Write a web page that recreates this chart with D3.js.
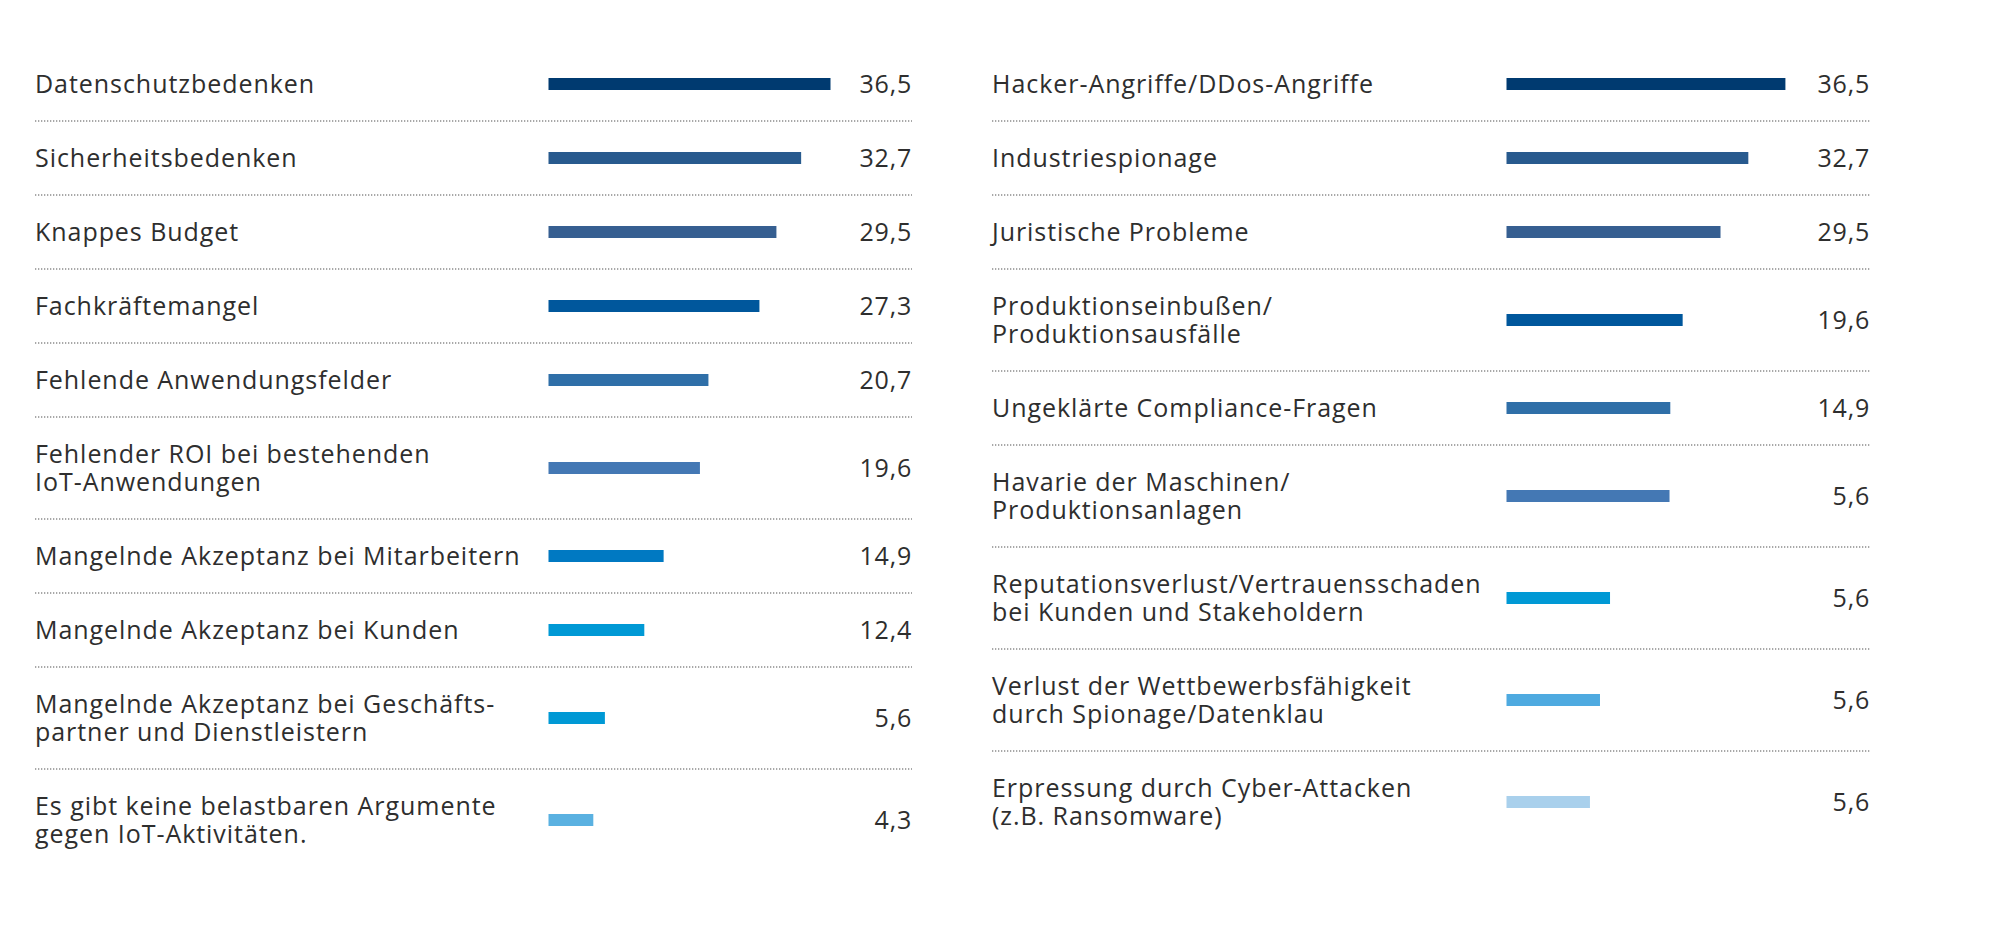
<!DOCTYPE html>
<html>
<head>
<meta charset="utf-8">
<script src="https://cdn.jsdelivr.net/npm/d3@7"></script>
<style>
  body { margin: 0; background: #fff; }
  text { font-family: "Open Sans", sans-serif; fill: #2e2e2e; }
</style>
</head>
<body>
<div id="chart"></div>
<script>
// Left panel: hindrances; right panel: risks
const leftCategories = [
  "Datenschutzbedenken",
  "Sicherheitsbedenken",
  "Knappes Budget",
  "Fachkräftemangel",
  "Fehlende Anwendungsfelder",
  "Fehlender ROI bei bestehenden\nIoT-Anwendungen",
  "Mangelnde Akzeptanz bei Mitarbeitern",
  "Mangelnde Akzeptanz bei Kunden",
  "Mangelnde Akzeptanz bei Geschäfts-\npartner und Dienstleistern",
  "Es gibt keine belastbaren Argumente\ngegen IoT-Aktivitäten."
];
// bar lengths as drawn in the picture
const leftValues = [36.5, 32.7, 29.5, 27.3, 20.7, 19.6, 14.9, 12.4, 7.3, 5.8];
// numbers printed next to the bars
const leftValueLabels = ["36,5", "32,7", "29,5", "27,3", "20,7", "19,6", "14,9", "12,4", "5,6", "4,3"];

const rightCategories = [
  "Hacker-Angriffe/DDos-Angriffe",
  "Industriespionage",
  "Juristische Probleme",
  "Produktionseinbußen/\nProduktionsausfälle",
  "Ungeklärte Compliance-Fragen",
  "Havarie der Maschinen/\nProduktionsanlagen",
  "Reputationsverlust/Vertrauensschaden\nbei Kunden und Stakeholdern",
  "Verlust der Wettbewerbsfähigkeit\ndurch Spionage/Datenklau",
  "Erpressung durch Cyber-Attacken\n(z.B. Ransomware)"
];
const rightValues = [36.1, 31.3, 27.7, 22.8, 21.2, 21.1, 13.4, 12.1, 10.8];
const rightValueLabels = ["36,5", "32,7", "29,5", "19,6", "14,9", "5,6", "5,6", "5,6", "5,6"];

const leftColors = ["#003a70", "#285a8e", "#365f91", "#00579c", "#2f6fa8", "#4478b4", "#0079c2", "#0099d5", "#0099d5", "#5ab1e1"];
const rightColors = ["#003a70", "#285a8e", "#365f91", "#00579c", "#2f6fa8", "#4478b4", "#0099d5", "#4eaae0", "#a9d0ec"];

const width = 2000, height = 930;
const svg = d3.select("#chart").append("svg")
  .attr("width", width)
  .attr("height", height);

const fontSize = 25, lineH = 28.5, capH = fontSize * 0.72;

function drawPanel(opts) {
  const { categories, values, labels, colors, left, barX, right } = opts;
  const rows = categories.map((c, i) => ({
    lines: c.split("\n"), value: values[i], label: labels[i], color: colors[i]
  }));
  // rows grow with the number of text lines
  let y = 47;
  rows.forEach(r => {
    r.h = r.lines.length > 1 ? 102 : 74;
    r.top = y;
    r.cy = y + r.h / 2;
    y += r.h;
  });

  const x = d3.scaleLinear().domain([0, 36.5]).range([0, 282]);
  const g = svg.append("g");

  g.selectAll(".sep")
    .data(rows.slice(0, -1))
    .enter()
    .append("line")
    .attr("class", "sep")
    .attr("x1", left)
    .attr("x2", right)
    .attr("y1", d => d.top + d.h)
    .attr("y2", d => d.top + d.h)
    .attr("stroke", "#8c8c8c")
    .attr("stroke-width", 1.5)
    .attr("stroke-dasharray", "1.3,1.7");

  g.selectAll(".bar")
    .data(rows)
    .enter()
    .append("rect")
    .attr("class", "bar")
    .attr("x", barX)
    .attr("y", d => d.cy - 6)
    .attr("width", d => x(d.value))
    .attr("height", 12)
    .attr("fill", d => d.color);

  const lbl = g.selectAll(".cat")
    .data(rows)
    .enter()
    .append("text")
    .attr("class", "cat")
    .attr("font-size", fontSize)
    .attr("letter-spacing", 0.95);
  lbl.selectAll("tspan")
    .data(d => d.lines.map((t, j) => ({ t, y: d.cy - (d.lines.length - 1) * lineH / 2 + j * lineH + capH / 2 })))
    .enter()
    .append("tspan")
    .attr("x", left)
    .attr("y", d => d.y)
    .text(d => d.t);

  g.selectAll(".val")
    .data(rows)
    .enter()
    .append("text")
    .attr("class", "val")
    .attr("font-size", fontSize)
    .attr("letter-spacing", 0.8)
    .attr("text-anchor", "end")
    .attr("x", right)
    .attr("y", d => d.cy + capH / 2)
    .text(d => d.label);
}

drawPanel({ categories: leftCategories, values: leftValues, labels: leftValueLabels,
  colors: leftColors, left: 35, barX: 548.5, right: 912 });
drawPanel({ categories: rightCategories, values: rightValues, labels: rightValueLabels,
  colors: rightColors, left: 992, barX: 1506.5, right: 1870 });
</script>
</body>
</html>
